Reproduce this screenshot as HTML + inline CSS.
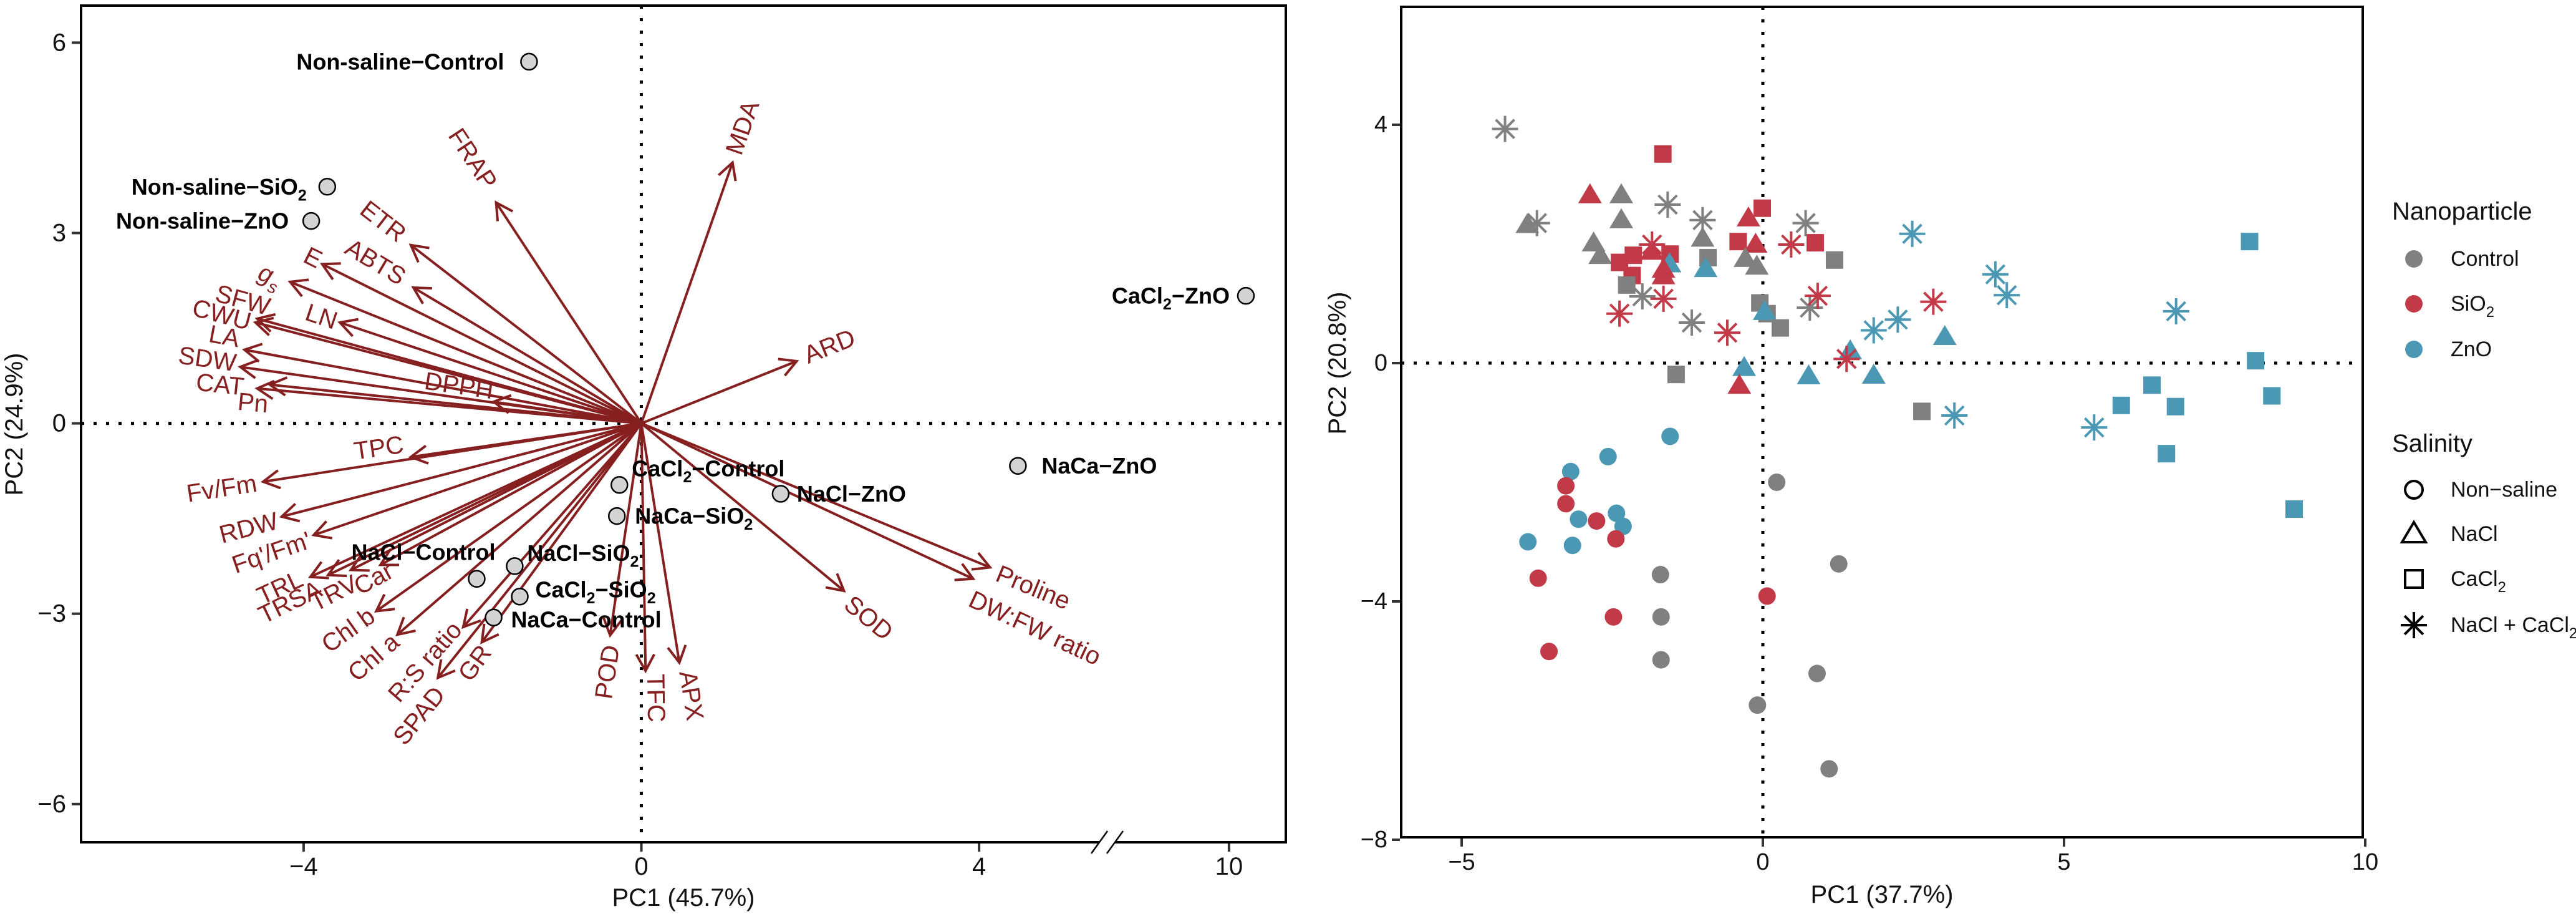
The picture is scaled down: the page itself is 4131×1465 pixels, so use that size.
<!DOCTYPE html>
<html><head><meta charset="utf-8"><style>
html,body{margin:0;padding:0;background:#fff;}
svg{display:block;font-family:"Liberation Sans",Arial,sans-serif;}
</style></head><body>
<svg id="fig" width="4131" height="1465" viewBox="0 0 4131 1465" xmlns="http://www.w3.org/2000/svg">
<g id="left"></g>
<g id="right"></g>
</svg>
<script>
// ---------- LEFT BIPLOT DATA ----------
const varNames = ["FRAP","MDA","ETR","ABTS","E","gs","LN","SFW","CWU","LA","SDW","CAT","Pn","DPPH","ARD","TPC","Fv/Fm","RDW","Fq'/Fm'","TRL","TRSA","TRV","Car","Chl b","Chl a","R:S ratio","GR","SPAD","POD","TFC","APX","SOD","Proline","DW:FW ratio"];
const varPC1 = [-1.72,1.08,-2.73,-2.70,-3.78,-4.16,-3.57,-4.55,-4.57,-4.70,-4.75,-4.40,-4.55,-1.75,1.84,-2.73,-4.48,-4.26,-3.88,-3.92,-3.71,-3.44,-3.09,-3.14,-2.89,-2.11,-1.89,-2.41,-0.37,0.05,0.45,2.40,4.13,3.93];
const varPC2 = [3.48,4.11,2.81,2.14,2.51,2.23,1.59,1.65,1.59,1.16,0.89,0.61,0.55,0.34,0.98,-0.53,-0.92,-1.47,-1.76,-2.42,-2.39,-2.31,-2.23,-2.96,-3.33,-3.21,-3.45,-4.01,-3.34,-3.90,-3.77,-2.64,-2.27,-2.45];
const varLabPC1 = [-2.0,1.20,-3.06,-3.15,-3.89,-4.40,-3.79,-4.72,-4.97,-4.94,-5.14,-4.99,-4.60,-2.16,2.23,-3.11,-4.97,-4.65,-4.38,-4.28,-4.16,-3.64,-3.17,-3.47,-3.17,-2.56,-1.97,-2.63,-0.40,0.17,0.59,2.69,4.64,4.66];
const varLabPC2 = [4.17,4.66,3.18,2.54,2.61,2.33,1.68,1.94,1.71,1.37,1.01,0.61,0.32,0.59,1.21,-0.39,-1.03,-1.65,-2.04,-2.59,-2.82,-2.68,-2.45,-3.26,-3.69,-3.76,-3.78,-4.61,-3.92,-4.33,-4.29,-3.07,-2.59,-3.23];
const obsNames = ["Non-saline−Control","Non-saline−SiO2","Non-saline−ZnO","CaCl2−ZnO","NaCa−ZnO","CaCl2−Control","NaCl−ZnO","NaCa−SiO2","NaCl−SiO2","NaCl−Control","CaCl2−SiO2","NaCa−Control"];
const obsPC1 = [-1.33,-3.72,-3.91,10.2,4.46,-0.26,1.65,-0.29,-1.50,-1.95,-1.44,-1.75];
const obsPC2 = [5.70,3.73,3.19,2.01,-0.67,-0.97,-1.11,-1.46,-2.25,-2.45,-2.73,-3.06];
const leftXTicks = [-4,0,4,10];
const leftYTicks = [-6,-3,0,3,6];

// ---------- RIGHT SCORE PLOT DATA ----------
const nanoLevels = ["Control","SiO2","ZnO"];
const salLevels = ["Non−saline","NaCl","CaCl2","NaCl + CaCl2"];
const scorePC1 = [-4.28,-1.66,-2.87,-2.35,-1.58,-3.91,-3.75,-2.35,-1.0,-0.24,-0.01,0.71,-2.81,-2.70,-2.38,-2.15,-1.84,-1.84,-1.54,-1.55,-2.17,-2.26,-1.65,-1.65,-1.0,-0.91,-0.95,-0.41,-0.12,-0.29,-0.10,0.47,0.87,1.19,-2.0,-1.65,-2.38,-1.18,-0.59,-0.05,0.07,0.03,0.29,0.78,0.91,1.84,1.45,1.39,0.76,1.84,-0.31,-0.39,-1.44,2.48,3.86,4.05,2.24,2.83,3.02,2.64,3.18,5.50,6.86,8.08,8.18,8.45,6.46,5.95,6.85,6.70,8.82,
 -1.54,-2.57,-3.19,-3.27,-3.27,-3.06,-2.76,-2.43,-2.32,-2.44,-3.90,-3.16,-3.73,-2.48,-3.55,0.07,0.23,1.26,-1.70,-1.69,-1.69,0.90,-0.09,1.10];
const scorePC2 = [3.93,3.51,2.82,2.82,2.66,2.32,2.35,2.40,2.40,2.43,2.60,2.35,2.01,1.80,1.69,1.81,1.99,1.87,1.83,1.66,1.47,1.31,1.57,1.46,2.09,1.77,1.58,2.04,1.99,1.75,1.62,1.99,2.02,1.73,1.12,1.08,0.83,0.68,0.51,1.01,0.83,0.86,0.59,0.93,1.13,0.55,0.20,0.07,-0.22,-0.21,-0.08,-0.38,-0.19,2.17,1.49,1.14,0.73,1.03,0.44,-0.81,-0.88,-1.08,0.87,2.04,0.04,-0.55,-0.37,-0.71,-0.73,-1.52,-2.45,
 -1.23,-1.57,-1.82,-2.06,-2.36,-2.62,-2.65,-2.52,-2.74,-2.95,-3.00,-3.06,-3.61,-4.26,-4.84,-3.91,-2.00,-3.37,-3.55,-4.26,-4.98,-5.21,-5.74,-6.81];
const scoreNano = [0,1,1,0,0,0,0,0,0,1,1,0,0,0,1,1,1,1,1,2,1,0,1,1,0,0,2,1,1,0,0,1,1,0,0,1,1,0,1,0,0,2,0,0,1,2,2,1,2,2,2,1,0,2,2,2,2,1,2,0,2,2,2,2,2,2,2,2,2,2,2,
 2,2,2,1,1,2,1,2,2,1,2,2,1,1,1,1,0,0,0,0,0,0,0,0];
const scoreSal = [3,2,1,1,3,1,3,1,3,1,2,3,1,1,2,2,3,1,2,1,2,2,1,1,1,2,1,2,1,1,1,3,2,2,3,3,3,3,3,2,2,1,2,3,3,3,1,3,1,1,1,1,2,3,3,3,3,3,1,2,3,3,3,2,2,2,2,2,2,2,2,
 0,0,0,0,0,0,0,0,0,0,0,0,0,0,0,0,0,0,0,0,0,0,0,0];
const rightXTicks = [-5,0,5,10];
const rightYTicks = [-8,-4,0,4];

const NS = "http://www.w3.org/2000/svg";
function mk(tag, attrs, parent){const e=document.createElementNS(NS,tag);for(const k in attrs)e.setAttribute(k,attrs[k]);if(parent)parent.appendChild(e);return e;}
function chem(t, s){
  const parts = s.split(/(\d)/);
  parts.forEach(p=>{ if(!p) return;
    if(/^\d$/.test(p)){const ts=mk("tspan",{"font-size":"70%","baseline-shift":"sub"},t);ts.textContent=p;}
    else t.appendChild(document.createTextNode(p));
  });
}

// ================= LEFT =================
const L = document.getElementById("left");
const lx0=1028.5, lux=135.4, ly0=678.6, luy=101.7;
function lx(v){return lx0+(v>7? v-3.04 : v)*lux;}
function ly(v){return ly0 - v*luy;}
const LB={x1:130,y1:9,x2:2062,y2:1350};
const darkred="#862020";

let zl=mk("line",{x1:lx(0),x2:lx(0),y1:LB.y1,y2:LB.y2,stroke:"#000","stroke-width":5,"stroke-dasharray":"5 15"},L);


let zh=mk("line",{x1:LB.x1,x2:LB.x2,y1:ly(0),y2:ly(0),stroke:"#000","stroke-width":5,"stroke-dasharray":"5 15"},L);



varNames.forEach((n,i)=>{
  const tx=lx(varPC1[i]), ty=ly(varPC2[i]);
  const g=mk("g",{},L);
  
  
  mk("line",{x1:lx(0),y1:ly(0),x2:tx,y2:ty,stroke:darkred,"stroke-width":4},g);
  const a=Math.atan2(ty-ly(0),tx-lx(0));
  const hl=30, ha=0.5;
  const p1=[tx-hl*Math.cos(a-ha),ty-hl*Math.sin(a-ha)], p2=[tx-hl*Math.cos(a+ha),ty-hl*Math.sin(a+ha)];
  mk("polyline",{points:`${p1[0]},${p1[1]} ${tx},${ty} ${p2[0]},${p2[1]}`,fill:"none",stroke:darkred,"stroke-width":4},g);
  const px=lx(varLabPC1[i]), py=ly(varLabPC2[i]);
  let deg=a*180/Math.PI;
  if(Math.cos(a)<0){deg+=180;}
  const t=mk("text",{x:px,y:py,"text-anchor":"middle","dominant-baseline":"central",fill:darkred,"font-size":40,transform:`rotate(${deg} ${px} ${py})`},L);
  
  
  if(n==="gs"){ t.setAttribute("font-style","italic"); t.textContent="g"; const s=mk("tspan",{"font-size":"70%","baseline-shift":"sub"},t); s.textContent="s"; }
  else t.textContent=n;
});

const labOff=[[-40,0,"end"],[-33,0,"end"],[-36,0,"end"],[-26,0,"end"],[38,0,"start"],[20,-26,"start"],[26,0,"start"],[29,0,"start"],[20,-21,"start"],[30,-43,"end"],[25,-11,"start"],[28,3,"start"]];
obsNames.forEach((n,i)=>{
  const cx=lx(obsPC1[i]), cy=ly(obsPC2[i]);
  const c=mk("circle",{cx:cx,cy:cy,r:13,fill:"#d3d3d3",stroke:"#000","stroke-width":2.5},L);
  
  
  const o=labOff[i];
  const t=mk("text",{x:cx+o[0],y:cy+o[1],"text-anchor":o[2],"dominant-baseline":"central","font-weight":"bold","font-size":36,fill:"#000"},L);
  
  
  chem(t,n);
});

let lf=mk("rect",{x:LB.x1,y:LB.y1,width:LB.x2-LB.x1,height:LB.y2-LB.y1,fill:"none",stroke:"#000","stroke-width":4},L);


let br=mk("g",{},L);


mk("rect",{x:1763,y:LB.y2-6,width:25,height:12,fill:"#fff"},br);
mk("line",{x1:1750,y1:1368,x2:1776,y2:1332,stroke:"#000","stroke-width":2.5},br);
mk("line",{x1:1775,y1:1368,x2:1801,y2:1332,stroke:"#000","stroke-width":2.5},br);

leftXTicks.forEach(v=>{
  const x=lx(v);
  mk("line",{x1:x,x2:x,y1:LB.y2+2,y2:LB.y2+15,stroke:"#333","stroke-width":4},L);
  const t=mk("text",{x:x,y:1402,"text-anchor":"middle","font-size":40,fill:"#111"},L);
  
  
  t.textContent=(v<0?"−":"")+Math.abs(v);
});
leftYTicks.forEach(v=>{
  const y=ly(v);
  mk("line",{x1:LB.x1-15,x2:LB.x1-2,y1:y,y2:y,stroke:"#333","stroke-width":4},L);
  const t=mk("text",{x:LB.x1-24,y:y,"text-anchor":"end","dominant-baseline":"central","font-size":40,fill:"#111"},L);
  
  
  t.textContent=(v<0?"−":"")+Math.abs(v);
});
let lxt=mk("text",{x:1096,y:1452,"text-anchor":"middle","font-size":40,fill:"#111"},L);


lxt.textContent="PC1 (45.7%)";
let lyt=mk("text",{x:0,y:0,"text-anchor":"middle","font-size":40,fill:"#111",transform:"translate(36 680) rotate(-90)"},L);


lyt.textContent="PC2 (24.9%)";

// ================= RIGHT =================
const R=document.getElementById("right");
const rx0=2827, rux=96.6, ry0=582, ruy=95.5;
function rx(v){return rx0+v*rux;}
function ry(v){return ry0-v*ruy;}
const RB={x1:2247,y1:11,x2:3789,y2:1342};
const cols=["#808080","#c23a48","#4a98b4"];

let rzv=mk("line",{x1:rx(0),x2:rx(0),y1:RB.y1,y2:RB.y2,stroke:"#000","stroke-width":5,"stroke-dasharray":"5 15"},R);


let rzh=mk("line",{x1:RB.x1,x2:RB.x2,y1:ry(0),y2:ry(0),stroke:"#000","stroke-width":5,"stroke-dasharray":"5 15"},R);



function marker(parent,shape,cx,cy,col,filled){
  let e;
  const fill=filled?col:"none", stroke=filled?"none":col;
  if(shape===0) e=mk("circle",{cx:cx,cy:cy,r:14,fill:fill,stroke:filled?"none":col,"stroke-width":4},parent);
  else if(shape===1) e=mk("polygon",{points:`${cx},${cy-19} ${cx+19},${cy+13} ${cx-19},${cy+13}`,fill:fill,stroke:stroke,"stroke-width":4},parent);
  else if(shape===2) e=mk("rect",{x:cx-14,y:cy-14,width:28,height:28,fill:fill,stroke:stroke,"stroke-width":4},parent);
  else {
    e=mk("g",{stroke:col,"stroke-width":4},parent);
    for(let k=0;k<4;k++){const ang=k*Math.PI/4;const dx=21*Math.sin(ang),dy=21*Math.cos(ang);
      mk("line",{x1:cx-dx,y1:cy-dy,x2:cx+dx,y2:cy+dy},e);}
  }
  return e;
}
scorePC1.forEach((v,i)=>{
  const m=marker(R,scoreSal[i],rx(v),ry(scorePC2[i]),cols[scoreNano[i]],true);
  
  
});

let rf=mk("rect",{x:RB.x1,y:RB.y1,width:RB.x2-RB.x1,height:RB.y2-RB.y1,fill:"none",stroke:"#000","stroke-width":4},R);


rightXTicks.forEach(v=>{
  const x=rx(v);
  mk("line",{x1:x,x2:x,y1:RB.y2+2,y2:RB.y2+15,stroke:"#333","stroke-width":4},R);
  const t=mk("text",{x:x,y:1394,"text-anchor":"middle","font-size":38,fill:"#111"},R);
  
  
  t.textContent=(v<0?"−":"")+Math.abs(v);
});
rightYTicks.forEach(v=>{
  const y=ry(v);
  mk("line",{x1:RB.x1-15,x2:RB.x1-2,y1:y,y2:y,stroke:"#333","stroke-width":4},R);
  const t=mk("text",{x:RB.x1-22,y:y,"text-anchor":"end","dominant-baseline":"central","font-size":38,fill:"#111"},R);
  
  
  t.textContent=(v<0?"−":"")+Math.abs(v);
});
let rxt=mk("text",{x:3018,y:1447,"text-anchor":"middle","font-size":40,fill:"#111"},R);


rxt.textContent="PC1 (37.7%)";
let ryt=mk("text",{x:0,y:0,"text-anchor":"middle","font-size":40,fill:"#111",transform:"translate(2158 582) rotate(-90)"},R);


ryt.textContent="PC2 (20.8%)";

const LG=mk("g",{},R);


let t1=mk("text",{x:3836,y:352,"font-size":40,fill:"#111"},LG);


t1.textContent="Nanoparticle";
const nanoY=[415,487,560];
nanoLevels.forEach((n,i)=>{
  const c=mk("circle",{cx:3871,cy:nanoY[i],r:14,fill:cols[i]},LG);
  
  
  const t=mk("text",{x:3930,y:nanoY[i],"dominant-baseline":"central","font-size":34,fill:"#111"},LG);
  
  
  chem(t,n);
});
let t2=mk("text",{x:3836,y:724,"font-size":40,fill:"#111"},LG);


t2.textContent="Salinity";
const salY=[785,856,928,1002];
salLevels.forEach((n,i)=>{
  const k=marker(LG,i,3871,salY[i],"#000",false);
  
  
  const t=mk("text",{x:3930,y:salY[i],"dominant-baseline":"central","font-size":34,fill:"#111"},LG);
  
  
  chem(t,n);
});
</script>
</body></html>
